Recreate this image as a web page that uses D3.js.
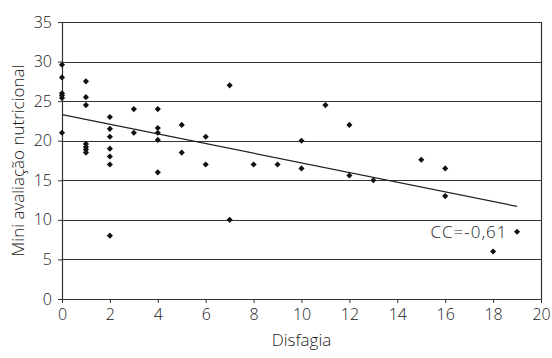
<!DOCTYPE html>
<html>
<head>
<meta charset="utf-8">
<script src="https://cdn.jsdelivr.net/npm/d3@7"></script>
<style>
  body { margin: 0; background: #fff; }
  svg { font-family: "Open Sans", "Noto Sans", sans-serif; font-weight: 300; }
</style>
</head>
<body>
<svg id="chart"></svg>
<script>
// Disfagia (x) vs Mini avaliação nutricional (y)
const disfagia = [
  0, 0, 0, 0, 0, 0,
  1, 1, 1, 1, 1, 1, 1,
  2, 2, 2, 2, 2, 2, 2,
  3, 3,
  4, 4, 4, 4, 4,
  5, 5,
  6, 6,
  7, 7,
  8, 9,
  10, 10,
  11,
  12, 12,
  13,
  15,
  16, 16,
  18,
  19
];
const man = [
  29.6, 28.0, 26.0, 25.7, 25.4, 21.0,
  27.5, 25.5, 24.5, 19.6, 19.2, 18.9, 18.5,
  23.0, 21.5, 20.5, 19.0, 18.0, 17.0, 8.0,
  24.0, 21.0,
  24.0, 21.6, 21.0, 20.1, 16.0,
  22.0, 18.5,
  20.5, 17.0,
  27.0, 10.0,
  17.0, 17.0,
  20.0, 16.5,
  24.5,
  22.0, 15.6,
  15.0,
  17.6,
  16.5, 13.0,
  6.0,
  8.5
];
// linha de tendência
const trendX = [0, 19];
const trendY = [23.3, 11.7];
const xTicks = [0, 2, 4, 6, 8, 10, 12, 14, 16, 18, 20];
const yTicks = [0, 5, 10, 15, 20, 25, 30, 35];
const ccLabel = "CC=-0,61";

const W = 552, H = 358;
const margin = { top: 22, right: 11, bottom: 59, left: 62 };
const width = W - margin.left - margin.right;
const height = H - margin.top - margin.bottom;
const textColor = "#1a1a1a";

const svg = d3.select("#chart")
  .attr("width", W)
  .attr("height", H);

const g = svg.append("g")
  .attr("transform", "translate(" + margin.left + "," + margin.top + ")");

const x = d3.scaleLinear().domain([0, 20]).range([0, width]);
const y = d3.scaleLinear().domain([0, 35]).range([height, 0]);

// grade horizontal
g.selectAll(".grid")
  .data(yTicks.filter(d => d > 0))
  .enter().append("line")
  .attr("class", "grid")
  .attr("x1", 0)
  .attr("x2", width)
  .attr("y1", d => Math.round(y(d)) + 0.5)
  .attr("y2", d => Math.round(y(d)) + 0.5)
  .attr("stroke", "#333")
  .attr("stroke-width", 1.2);

// borda direita
g.append("line")
  .attr("x1", width + 0.5).attr("x2", width + 0.5)
  .attr("y1", y(35)).attr("y2", y(0))
  .attr("stroke", "#333")
  .attr("stroke-width", 1.2);

const xAxis = g.append("g")
  .attr("transform", "translate(0," + height + ")")
  .call(d3.axisBottom(x).tickValues(xTicks).tickSize(4).tickPadding(6).tickSizeOuter(0));

const yAxis = g.append("g")
  .call(d3.axisLeft(y).tickValues(yTicks).tickSize(4).tickPadding(6).tickSizeOuter(0));

[xAxis, yAxis].forEach(a => {
  a.select(".domain").attr("stroke", "#333").attr("stroke-width", 1.2);
  a.selectAll(".tick line").attr("stroke", "#333");
  a.selectAll("text")
    .attr("fill", textColor)
    .style("font-size", "16px")
    .style("font-weight", "300")
    .style("font-family", "'Open Sans', 'Noto Sans', sans-serif");
});

// linha de tendência
g.append("line")
  .attr("x1", x(trendX[0])).attr("y1", y(trendY[0]))
  .attr("x2", x(trendX[1])).attr("y2", y(trendY[1]))
  .attr("stroke", "#222")
  .attr("stroke-width", 1.2);

// pontos (losangos)
const pts = disfagia.map((d, i) => ({ x: d, y: man[i] }));
g.selectAll(".pt")
  .data(pts)
  .enter().append("path")
  .attr("class", "pt")
  .attr("d", d3.symbol().type(d3.symbolDiamond2).size(24))
  .attr("transform", d => "translate(" + x(d.x) + "," + y(d.y) + ")")
  .attr("fill", "#111");

g.append("text")
  .attr("x", x(18.6))
  .attr("y", y(8.5) + 6)
  .attr("text-anchor", "end")
  .attr("fill", textColor)
  .style("font-size", "17px")
  .style("letter-spacing", "1px")
  .text(ccLabel);

// títulos dos eixos
svg.append("text")
  .attr("x", margin.left + width / 2)
  .attr("y", 346)
  .attr("text-anchor", "middle")
  .attr("fill", textColor)
  .style("font-size", "17px")
  .text("Disfagia");

svg.append("text")
  .attr("transform", "translate(24," + (margin.top + height / 2) + ") rotate(-90)")
  .attr("text-anchor", "middle")
  .attr("fill", textColor)
  .style("font-size", "17px")
  .text("Mini avaliação nutricional");
</script>
</body>
</html>
